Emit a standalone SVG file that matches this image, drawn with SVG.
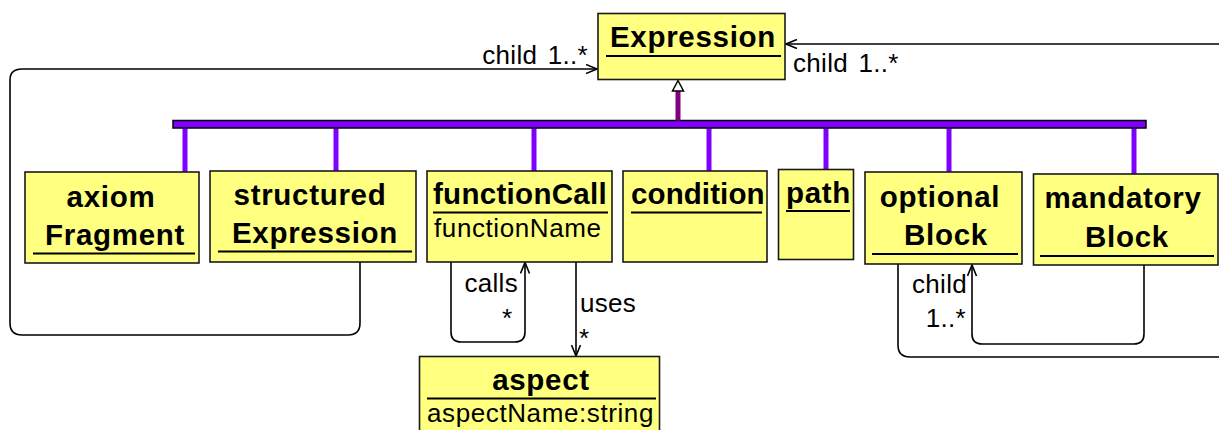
<svg xmlns="http://www.w3.org/2000/svg" width="1219" height="430" viewBox="0 0 1219 430">
  <style>
    .cls { fill: #ffff80; stroke: #1a1a1a; stroke-width: 1.6; }
    .ul { stroke: #000; stroke-width: 2; }
    .name { font-family: "Liberation Sans", Arial, sans-serif; font-weight: bold; font-size: 29.5px; letter-spacing: 0.7px; fill: #000; }
    .tight { letter-spacing: 0.1px; }
    .attr { font-family: "Liberation Sans", Arial, sans-serif; font-size: 26px; letter-spacing: 0.6px; fill: #000; }
    .lbl { font-family: "Liberation Sans", Arial, sans-serif; font-size: 26px; letter-spacing: 0.3px; fill: #000; }
    .role { word-spacing: 3px; }
    .assoc { fill: none; stroke: #000; stroke-width: 1.6; }
    .spoke { stroke: #8000ff; stroke-width: 5; }
  </style>
  <defs>
    <marker id="open" markerUnits="userSpaceOnUse" markerWidth="13" markerHeight="12" refX="11.5" refY="5.5" orient="auto">
      <path d="M0.5,1 L11.5,5.5 L0.5,10" fill="none" stroke="#000" stroke-width="1.6"/>
    </marker>
  </defs>

  <rect width="1219" height="430" fill="#ffffff"/>

  <!-- inheritance tree -->
  <g id="inheritance">
    <line class="spoke" x1="185" y1="128" x2="185" y2="172"/>
    <line class="spoke" x1="336" y1="128" x2="336" y2="171"/>
    <line class="spoke" x1="534" y1="128" x2="534" y2="171"/>
    <line class="spoke" x1="709" y1="128" x2="709" y2="171"/>
    <line class="spoke" x1="826" y1="128" x2="826" y2="169"/>
    <line class="spoke" x1="949" y1="128" x2="949" y2="172"/>
    <line class="spoke" x1="1134" y1="128" x2="1134" y2="174"/>
    <rect x="173" y="120.5" width="973" height="7.5" fill="#8000ff" stroke="#000" stroke-width="1.5"/>
    <line x1="678" y1="91" x2="678" y2="120.5" stroke="#800080" stroke-width="5"/>
    <polygon points="678,80.5 672.5,91 683.5,91" fill="#ffffff" stroke="#000" stroke-width="1.5"/>
  </g>

  <!-- associations -->
  <g id="connectors">
    <path class="assoc" d="M360,262 V323 Q360,335 348,335 H22 Q10,335 10,323 V80 Q10,69 22,69 H597" marker-end="url(#open)"/>
    <text class="lbl role" x="588" y="64" text-anchor="end">child 1..*</text>

    <path class="assoc" d="M1225,44 H786" marker-end="url(#open)"/>
    <text class="lbl role" x="793" y="72">child 1..*</text>

    <path class="assoc" d="M898,264 V345 Q898,357 910,357 H1225"/>

    <path class="assoc" d="M1144,265 V334 Q1144,344 1134,344 H982 Q972,344 972,334 V265" marker-end="url(#open)"/>
    <text class="lbl" x="912" y="293">child</text>
    <text class="lbl" x="966" y="327" text-anchor="end">1..*</text>

    <path class="assoc" d="M451,262 V332 Q451,342 461,342 H515 Q525,342 525,332 V262.5" marker-end="url(#open)"/>
    <text class="lbl" x="518" y="292" text-anchor="end">calls</text>
    <text class="lbl" x="502" y="327">*</text>

    <path class="assoc" d="M576,262 V356" marker-end="url(#open)"/>
    <text class="lbl" x="580" y="312">uses</text>
    <text class="lbl" x="579" y="347">*</text>
  </g>

  <g id="expression">
    <rect class="cls" x="598" y="13.5" width="187" height="66"/>
    <line class="ul" x1="606" y1="56" x2="781" y2="56"/>
    <text class="name" x="693" y="47" text-anchor="middle">Expression</text>
  </g>

  <g id="axiomFragment">
    <rect class="cls" x="25" y="172" width="174" height="91"/>
    <line class="ul" x1="33" y1="253.5" x2="195" y2="253.5"/>
    <text class="name" x="111" y="207" text-anchor="middle">axiom</text>
    <text class="name" x="115" y="245" text-anchor="middle">Fragment</text>
  </g>

  <g id="structuredExpression">
    <rect class="cls" x="210" y="171" width="206" height="91"/>
    <line class="ul" x1="218" y1="251.5" x2="412" y2="251.5"/>
    <text class="name" x="310" y="205" text-anchor="middle">structured</text>
    <text class="name" x="315" y="243" text-anchor="middle">Expression</text>
  </g>

  <g id="functionCall">
    <rect class="cls" x="427" y="171" width="185" height="91"/>
    <line class="ul" x1="433" y1="212.5" x2="608" y2="212.5"/>
    <text class="name tight" x="433" y="204" style="letter-spacing:0.3px">functionCall</text>
    <text class="attr" x="434" y="237">functionName</text>
  </g>

  <g id="condition">
    <rect class="cls" x="623" y="171" width="144" height="91"/>
    <line class="ul" x1="631" y1="212.5" x2="762" y2="212.5"/>
    <text class="name tight" x="631" y="204">condition</text>
  </g>

  <g id="path">
    <rect class="cls" x="778.5" y="169.5" width="75" height="90"/>
    <line class="ul" x1="786" y1="211" x2="850" y2="211"/>
    <text class="name" x="786" y="203">path</text>
  </g>

  <g id="optionalBlock">
    <rect class="cls" x="865" y="172" width="157" height="92"/>
    <line class="ul" x1="872" y1="254" x2="1018" y2="254"/>
    <text class="name" x="940" y="207" text-anchor="middle">optional</text>
    <text class="name" x="946" y="245" text-anchor="middle">Block</text>
  </g>

  <g id="mandatoryBlock">
    <rect class="cls" x="1033.5" y="174" width="184.5" height="91"/>
    <line class="ul" x1="1040" y1="256" x2="1214" y2="256"/>
    <text class="name" x="1123" y="208" text-anchor="middle">mandatory</text>
    <text class="name" x="1127" y="247" text-anchor="middle">Block</text>
  </g>

  <g id="aspect">
    <rect class="cls" x="419.5" y="356.5" width="240" height="90"/>
    <line class="ul" x1="427" y1="398.5" x2="656" y2="398.5"/>
    <text class="name" x="541" y="390" text-anchor="middle">aspect</text>
    <text class="attr" x="427" y="422">aspectName:string</text>
  </g>
</svg>
